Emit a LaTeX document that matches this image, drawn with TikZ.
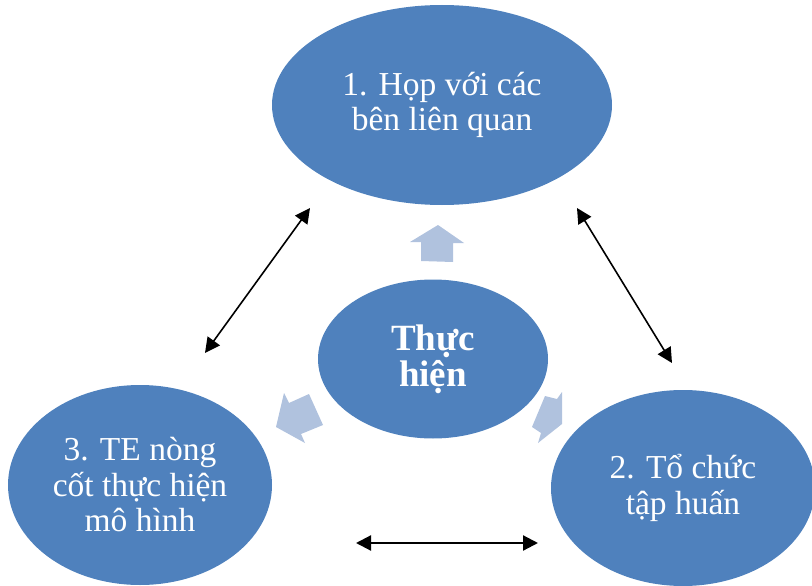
\documentclass[tikz,border=0pt]{standalone}
\usepackage{fontspec}
\setmainfont{Liberation Serif}
\usetikzlibrary{shapes.geometric,arrows.meta}
\definecolor{ellblue}{HTML}{4F81BD}
\definecolor{blockblue}{HTML}{B0C2DE}
\tikzset{
  bubble/.style={ellipse, fill=ellblue, draw=none, inner sep=0pt, text=white, align=center,
    font=\fontsize{33.5}{35.5}\selectfont},
  blockarrow/.style={fill=blockblue, draw=none},
  dblarrow/.style={{Triangle[length=15pt,width=15pt]}-{Triangle[length=15pt,width=15pt]}, line width=1.6pt, black},
}
\begin{document}
\begin{tikzpicture}[x=1pt,y=-1pt]
\useasboundingbox (0,0) rectangle (812,586);
% ellipses
\node[bubble, minimum width=340pt, minimum height=200pt] (top) at (442,105) {1. Họp với các\\bên liên quan};
\node[bubble, minimum width=230pt, minimum height=159pt, font=\fontsize{37}{36}\selectfont\bfseries] (mid) at (433,359) {Thực\\hiện};
\node[bubble, minimum width=264pt, minimum height=200pt] (left) at (140,485) {3. TE nòng\\cốt thực hiện\\mô hình};
\node[bubble, minimum width=264pt, minimum height=196pt] (right) at (683,488) {2. Tổ chức\\tập huấn};
% block arrows
\fill[blockarrow] (438,225) -- (464,243) -- (453,243) -- (453,262) -- (421,261) -- (421,242) -- (410,242) -- cycle;
\fill[blockarrow] (276,427) -- (284,393) -- (289,403) -- (309,394) -- (323,425) -- (301,434) -- (305,443) -- cycle;
\fill[blockarrow] (545,396) -- (557,399) -- (562,392) -- (562,424) -- (538,443) -- (541,433) -- (532,427) -- cycle;
% double arrows
\coordinate (l1) at (310,208);
\coordinate (l2) at (205,353);
\coordinate (r1) at (577,208);
\coordinate (r2) at (672,363);
\coordinate (b1) at (356,543);
\coordinate (b2) at (538,543);
\draw[dblarrow] (l2) -- (l1);
\draw[dblarrow] (r1) -- (r2);
\draw[dblarrow, line width=2.2pt] (b1) -- (b2);
\end{tikzpicture}
\end{document}
